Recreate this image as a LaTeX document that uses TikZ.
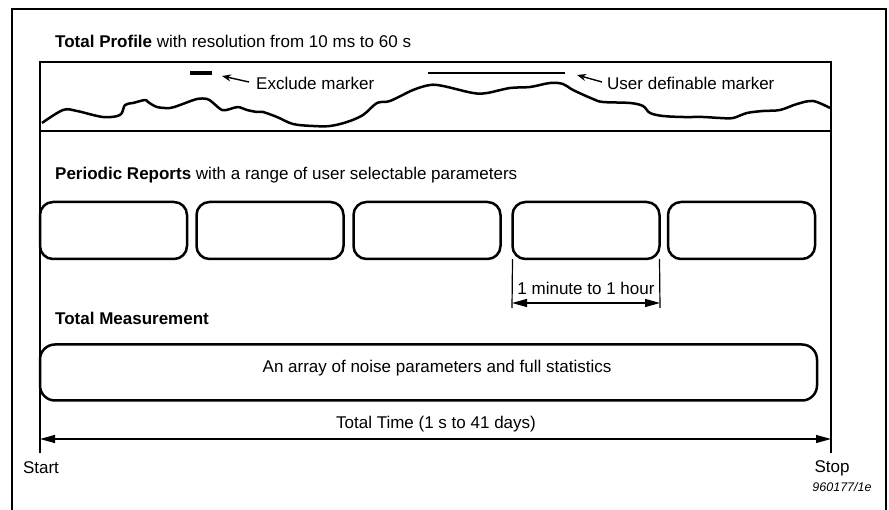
\documentclass[tikz,border=0pt]{standalone}
\usepackage{fontspec}
\setmainfont{Liberation Sans}
\usetikzlibrary{arrows.meta,calc}
\begin{document}
\begin{tikzpicture}[x=1pt,y=-1pt,
  lbl/.style={inner sep=0pt,font=\fontsize{17}{20}\selectfont},
  thickline/.style={line width=2.5pt},
  thinline/.style={line width=1.2pt},
  repbox/.style={draw,line width=2.5pt,rounded corners=13pt,minimum width=147pt,minimum height=57pt,inner sep=0pt,outer sep=0pt},
  dimarrow/.style={thinline,{Triangle[length=15pt,width=8pt]}-{Triangle[length=15pt,width=8pt]}},
  ptrarrow/.style={line width=1.4pt,-{Stealth[length=9pt,width=7pt]}}]
\useasboundingbox (0,0) rectangle (889,510);
% outer frame
\draw[thickline] (12,510) -- (12,9) -- (886,9) -- (886,510);
% titles
\node[lbl,anchor=west] (t1) at (55,41) {\textbf{Total Profile} with resolution from 10 ms to 60 s};
\node[lbl,anchor=west] (t2) at (55,175) {\textbf{Periodic Reports} with a range of user selectable parameters};
\node[lbl,anchor=west] (t3) at (55,318) {\textbf{Total Measurement}};
% profile box
\node[draw,thickline,minimum width=791pt,minimum height=69pt,inner sep=0pt,outer sep=0pt] (prof) at (435.5,96.5) {};
\draw[thickline,line join=round] plot[smooth,tension=0.55] coordinates {(42,123) (63,110) (77,111) (103,117) (120,115) (125,105) (133,103) (145,100) (148,102) (157,107) (170,108) (180,105) (197,99) (207,99) (212,102) (222,110) (230,109) (238,107) (247,110) (257,112) (263,112) (277,117) (293,124) (313,126) (330,126) (347,122) (363,115) (377,103) (390,101) (413,90) (430,85) (443,86) (473,93) (487,93) (510,88) (530,87) (550,83) (563,84) (573,90) (593,99) (603,102) (630,103) (643,106) (650,113) (663,116) (683,117) (703,117) (720,118) (733,118) (747,113) (763,111) (780,110) (797,104) (813,101) (830,108)};
% markers
\fill (190,71) rectangle (212,75.5);
\coordinate (um1) at (428,73);
\coordinate (um2) at (565,73);
\draw[line width=2pt] (um1) -- (um2);
\node[lbl,anchor=west] (excl) at (256,83) {Exclude marker};
\node[lbl,anchor=west] (user) at (607,83) {User definable marker};
\coordinate (exTip) at (222,76);
\coordinate (usTip) at (577,75);
\draw[ptrarrow] ($(excl.west)+(-7,-1)$) -- (exTip);
\draw[ptrarrow] ($(user.west)+(-5,-1)$) -- (usTip);
% periodic report boxes
\node[repbox] (r1) at (113.5,230.5) {};
\node[repbox] (r2) at (270,230.5) {};
\node[repbox] (r3) at (427,230.5) {};
\node[repbox] (r4) at (586,230.5) {};
\node[repbox] (r5) at (741.5,230.5) {};
% 1 minute dimension
\coordinate (d1) at (512,308);
\coordinate (d2) at (660,308);
\draw[thinline] (r4.south west) -- (d1);
\draw[thinline] (r4.south east) -- (d2);
\draw[dimarrow] ($(d1)+(0,-5)$) -- ($(d2)+(0,-5)$);
\node[lbl] (dlab) at (586,288) {1 minute to 1 hour};
% total measurement box
\node[draw,line width=2.5pt,rounded corners=15pt,minimum width=777pt,minimum height=56pt,inner sep=0pt,outer sep=0pt] (tm) at (428.5,372.5) {};
\node[lbl] (tmlab) at (437,368) {An array of noise parameters and full statistics};
% start / stop verticals
\coordinate (sL) at (40,453);
\coordinate (sR) at (831,453);
\coordinate (pR) at (831,131);
\draw[thinline] (prof.south west) -- (sL);
\draw[thinline] (pR) -- (sR);
\coordinate (aL) at (40,439);
\coordinate (aR) at (831,439);
\draw[dimarrow] (aL) -- (aR);
\node[lbl] (ttl) at (436,424) {Total Time (1 s to 41 days)};
\node[lbl] (start) at (41,468) {Start};
\node[lbl] (stop) at (832,468) {Stop};
\node[inner sep=0pt,font=\fontsize{12.5}{15}\selectfont\itshape] (num) at (842,487) {960177/1e};
\end{tikzpicture}
\end{document}
